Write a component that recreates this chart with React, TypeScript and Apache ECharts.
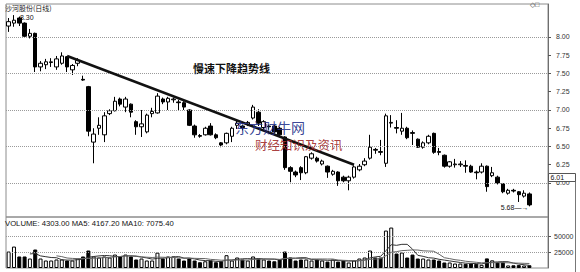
import React, { useEffect, useRef } from "react";
import * as echarts from "echarts";

// 沙河股份 daily bars, oldest first
const opens = [
  8.15, 8.19, 8.26, 8.19, 8.01, 8.05, 7.59, 7.62, 7.65, 7.59,
  7.64, 7.73, 7.55, 7.64, 7.42, 7.32, 6.56, 6.75, 6.66, 6.95,
  6.99, 7.15, 7.04, 7.08, 6.84, 6.77, 6.7, 6.95, 6.96, 7.15,
  7.11, 7.14, 7.11, 7.1, 7.0, 6.78, 6.65, 6.66, 6.78, 6.66,
  6.55, 6.55, 6.64, 6.79, 6.78, 6.8, 6.89, 6.97, 6.76, 6.78,
  6.78, 6.75, 6.63, 6.21, 6.15, 6.21, 6.14, 6.34, 6.34, 6.26,
  6.23, 6.12, 6.15, 6.08, 6.03, 6.08, 6.18, 6.25, 6.34, 6.46,
  6.43, 6.27, 6.82, 6.76, 6.71, 6.75, 6.69, 6.6, 6.49, 6.55,
  6.68, 6.43, 6.38, 6.23, 6.25, 6.25, 6.24, 6.23, 6.15, 6.15,
  6.23, 6.1, 6.08, 5.99, 5.86, 5.9, 5.88, 5.82, 5.85,
];
const closes = [
  8.21, 8.23, 8.19, 8.01, 8.05, 7.59, 7.64, 7.66, 7.66, 7.7,
  7.74, 7.59, 7.61, 7.68, 7.41, 6.71, 6.67, 6.79, 6.92, 6.99,
  7.12, 7.08, 7.15, 6.97, 6.77, 6.81, 6.93, 6.98, 7.19, 7.11,
  7.16, 7.15, 7.1, 7.04, 6.79, 6.66, 6.64, 6.75, 6.66, 6.62,
  6.52, 6.68, 6.75, 6.82, 6.76, 6.83, 7.04, 6.82, 6.84, 6.77,
  6.7, 6.66, 6.21, 6.16, 6.11, 6.14, 6.36, 6.4, 6.3, 6.3,
  6.15, 6.16, 6.03, 6.03, 6.08, 6.22, 6.23, 6.3, 6.49, 6.45,
  6.42, 6.92, 6.83, 6.75, 6.75, 6.62, 6.68, 6.49, 6.55, 6.64,
  6.42, 6.42, 6.23, 6.29, 6.26, 6.26, 6.23, 6.15, 6.14, 6.23,
  5.95, 6.14, 6.0, 5.88, 5.9, 5.89, 5.84, 5.86, 5.7,
];
const lows = [
  8.07, 8.14, 8.15, 8.0, 7.98, 7.52, 7.53, 7.56, 7.59, 7.55,
  7.62, 7.52, 7.48, 7.6, 7.4, 6.64, 6.27, 6.66, 6.56, 6.93,
  6.98, 7.05, 6.97, 6.9, 6.66, 6.63, 6.68, 6.9, 6.95, 7.08,
  7.0, 7.1, 7.0, 7.0, 6.78, 6.62, 6.62, 6.65, 6.65, 6.6,
  6.49, 6.53, 6.56, 6.74, 6.72, 6.78, 6.87, 6.78, 6.74, 6.73,
  6.68, 6.64, 6.18, 6.01, 6.08, 6.04, 6.12, 6.32, 6.28, 6.24,
  6.07, 6.1, 5.96, 6.01, 5.9, 6.06, 6.16, 6.23, 6.32, 6.4,
  6.38, 6.22, 6.76, 6.68, 6.66, 6.6, 6.52, 6.48, 6.47, 6.53,
  6.4, 6.38, 6.21, 6.21, 6.21, 6.22, 6.14, 6.14, 6.05, 6.13,
  5.88, 6.08, 5.98, 5.86, 5.84, 5.87, 5.74, 5.8, 5.68,
];
const highs = [
  8.26, 8.3, 8.28, 8.2, 8.11, 8.06, 7.67, 7.7, 7.71, 7.74,
  7.79, 7.74, 7.63, 7.71, 7.47, 7.33, 6.75, 6.9, 6.97, 7.01,
  7.18, 7.17, 7.18, 7.09, 6.86, 7.0, 6.95, 7.03, 7.23, 7.17,
  7.18, 7.17, 7.14, 7.12, 7.01, 6.8, 6.67, 6.77, 6.82, 6.68,
  6.56, 6.69, 6.77, 6.86, 6.8, 6.85, 7.07, 7.01, 6.86, 6.8,
  6.8, 6.77, 6.64, 6.23, 6.17, 6.23, 6.37, 6.42, 6.36, 6.32,
  6.24, 6.18, 6.16, 6.1, 6.1, 6.24, 6.26, 6.34, 6.66, 6.48,
  6.59, 6.95, 6.93, 6.86, 6.96, 6.77, 6.72, 6.61, 6.57, 6.66,
  6.69, 6.48, 6.39, 6.3, 6.33, 6.3, 6.31, 6.25, 6.17, 6.27,
  6.24, 6.22, 6.1, 6.0, 5.92, 5.92, 5.89, 5.9, 5.87,
];
const volumes = [
  25700, 33500, 18000, 18000, 14800, 28900, 14800, 11700, 11700, 13300,
  13300, 11700, 11700, 14800, 18000, 27300, 18000, 16400, 18000, 16400,
  21000, 18000, 21000, 18000, 13300, 14800, 11700, 11700, 24000, 14800,
  18000, 18000, 14800, 11700, 14800, 11700, 9000, 10500, 11700, 9000,
  10500, 20000, 11700, 16400, 13300, 11700, 18000, 14800, 13300, 11700,
  10500, 13300, 25700, 16400, 11700, 13300, 13300, 11700, 13300, 11700,
  10000, 13300, 10000, 11700, 8600, 11700, 14800, 16400, 27300, 16400,
  16400, 58500, 63200, 22600, 24200, 16400, 21000, 14800, 14800, 13300,
  13300, 11700, 8600, 8600, 7000, 7000, 6500, 7000, 6500, 5000,
  15000, 12000, 9000, 8918, 4000, 4200, 4500, 3833, 4303,
];

const days = opens.map((_, i) => `D${i + 1}`);
const priceTicks = [6.0, 6.25, 6.5, 6.75, 7.0, 7.25, 7.5, 7.75, 8.0];
const priceGridLines = [6.0, 6.5, 7.0, 7.5, 8.0];
const volumeTicks = [25000, 50000];
const trendLine = [
  { day: 11, price: 7.74 },
  { day: 65, price: 6.25 },
];
const lastPrice = 6.01;
const trendText = "慢速下降趋势线";
const stockTitle = "沙河股份(日线)";
const watermarkTop = "东方财牛网";
const watermarkBottom = "财经知识及资讯";

const movingAverage = (values: number[], n: number) =>
  values.map((_, i) => {
    if (i < n - 1) return "-";
    let s = 0;
    for (let k = i - n + 1; k <= i; k++) s += values[k];
    return +(s / n).toFixed(2);
  });

const NUM_FONT = "'Liberation Sans', Arial, sans-serif";
const CJK_FONT = "'Noto Sans CJK SC', sans-serif";

// plot frame: both panes share the same left edge and width
const PLOT_LEFT = 6;
const PLOT_WIDTH = 542;

export default function App() {
  const ref = useRef<HTMLDivElement>(null);

  useEffect(() => {
    if (!ref.current) return;
    const chart = echarts.init(ref.current, undefined, { renderer: "svg" });

    const ma5 = movingAverage(volumes, 5);
    const ma10 = movingAverage(volumes, 10);
    const last = volumes.length - 1;
    const volumeText = `VOLUME: ${volumes[last].toFixed(2)} MA5: ${(ma5[last] as number).toFixed(2)} MA10: ${(ma10[last] as number).toFixed(2)}`;

    let hiIdx = 0;
    let loIdx = 0;
    highs.forEach((h, i) => { if (h > highs[hiIdx]) hiIdx = i; });
    lows.forEach((l, i) => { if (l < lows[loIdx]) loIdx = i; });

    const isUp = (i: number) => closes[i] >= opens[i];

    const dotted = { type: "dotted" as const, color: "#9a9a9a", width: 1 };
    const hiddenX = {
      type: "category" as const,
      data: days,
      max: days.length + 2,
      boundaryGap: true,
      axisLine: { show: false },
      axisTick: { show: false },
      axisLabel: { show: false },
      splitLine: { show: false },
    };

    const decorations: any[] = [
      {
        type: "text",
        left: 5,
        top: 4,
        style: { text: stockTitle, font: `7px ${CJK_FONT}`, fill: "#222" },
      },
      {
        type: "text",
        left: 530,
        top: 1,
        style: { text: "◇□", font: `7px ${NUM_FONT}`, fill: "#444" },
      },
      {
        type: "text",
        left: 193,
        top: 62,
        style: { text: trendText, font: `bold 11px ${CJK_FONT}`, fill: "#111" },
      },
      {
        type: "text",
        left: 235,
        top: 120,
        z: 50,
        style: { text: watermarkTop, font: `14px ${CJK_FONT}`, fill: "rgba(36,48,138,0.9)" },
      },
      {
        type: "text",
        left: 255,
        top: 138,
        z: 50,
        style: { text: watermarkBottom, font: `12.5px ${CJK_FONT}`, fill: "rgba(160,40,40,0.9)" },
      },
      {
        type: "text",
        left: 5,
        top: 219,
        style: { text: volumeText, font: `7.7px ${NUM_FONT}`, fill: "#111" },
      },
      {
        type: "line",
        shape: { x1: 575.5, y1: 176, x2: 575.5, y2: 272 },
        style: { stroke: "#777", lineWidth: 1 },
      },
    ];

    const option: any = {
      animation: false,
      backgroundColor: "#ffffff",
      textStyle: { fontFamily: NUM_FONT },
      grid: [
        { left: PLOT_LEFT, top: 4, width: PLOT_WIDTH, height: 213, show: true, borderColor: "#8c8c8c", borderWidth: 1 },
        { left: PLOT_LEFT, top: 217, width: PLOT_WIDTH, height: 51, show: true, borderColor: "#8c8c8c", borderWidth: 1 },
      ],
      xAxis: [
        { ...hiddenX, gridIndex: 0 },
        { ...hiddenX, gridIndex: 1 },
      ],
      yAxis: [
        {
          type: "value",
          gridIndex: 0,
          position: "right",
          min: 5.534,
          max: 8.452,
          axisLine: { show: true, lineStyle: { color: "#6e6e6e" } },
          axisTick: { show: true, customValues: priceTicks, length: 3, lineStyle: { color: "#555" } },
          axisLabel: {
            customValues: priceTicks,
            formatter: (v: number) => v.toFixed(2),
            fontSize: 7,
            color: "#333",
            margin: 8,
            fontFamily: NUM_FONT,
          },
          splitLine: { show: false },
        },
        {
          type: "value",
          gridIndex: 1,
          position: "right",
          min: 0,
          max: 79700,
          axisLine: { show: true, lineStyle: { color: "#6e6e6e" } },
          axisTick: { show: true, customValues: volumeTicks, length: 3, lineStyle: { color: "#555" } },
          axisLabel: {
            customValues: volumeTicks,
            formatter: (v: number) => String(v),
            fontSize: 7,
            color: "#333",
            margin: 6,
            fontFamily: NUM_FONT,
          },
          splitLine: { show: false },
        },
      ],
      series: [
        {
          type: "candlestick",
          xAxisIndex: 0,
          yAxisIndex: 0,
          barWidth: 4,
          data: days.map((_, i) => [opens[i], closes[i], lows[i], highs[i]]),
          itemStyle: {
            color: "#ffffff",
            color0: "#000000",
            borderColor: "#000000",
            borderColor0: "#000000",
            borderColorDoji: "#000000",
            borderWidth: 1,
          },
          markLine: {
            silent: true,
            symbol: ["none", "none"],
            label: { show: false },
            data: [
              ...priceGridLines.map((v) => ({ yAxis: v, lineStyle: dotted, label: { show: false } })),
              [
                { coord: [trendLine[0].day, trendLine[0].price], lineStyle: { color: "#111", width: 2.6, type: "solid" } },
                { coord: [trendLine[1].day, trendLine[1].price] },
              ],
            ],
          },
          markPoint: {
            silent: true,
            symbol: "circle",
            symbolSize: 0,
            itemStyle: { color: "rgba(0,0,0,0)" },
            data: [
              {
                coord: [hiIdx, highs[hiIdx]],
                label: {
                  show: true,
                  position: "right",
                  distance: 6,
                  offset: [0, 2],
                  formatter: highs[hiIdx].toFixed(2),
                  fontSize: 7,
                  color: "#111",
                  fontFamily: NUM_FONT,
                },
              },
              {
                coord: [loIdx, lows[loIdx]],
                label: {
                  show: true,
                  position: "left",
                  distance: 1,
                  offset: [0, 1],
                  formatter: `${lows[loIdx].toFixed(2)}—→`,
                  fontSize: 7,
                  color: "#111",
                  fontFamily: NUM_FONT,
                },
              },
            ],
          },
        },
        {
          type: "bar",
          xAxisIndex: 1,
          yAxisIndex: 1,
          barWidth: 4,
          data: volumes.map((v, i) => ({
            value: v,
            itemStyle: isUp(i)
              ? { color: "#ffffff", borderColor: "#000", borderWidth: 1 }
              : { color: "#000000", borderColor: "#000", borderWidth: 1 },
          })),
          markLine: {
            silent: true,
            symbol: ["none", "none"],
            label: { show: false },
            data: volumeTicks.map((v) => ({ yAxis: v, lineStyle: dotted })),
          },
        },
        {
          type: "line",
          name: "MA5",
          xAxisIndex: 1,
          yAxisIndex: 1,
          data: ma5,
          symbol: "none",
          lineStyle: { color: "#333", width: 1 },
          z: 5,
        },
        {
          type: "line",
          name: "MA10",
          xAxisIndex: 1,
          yAxisIndex: 1,
          data: ma10,
          symbol: "none",
          lineStyle: { color: "#666", width: 1 },
          z: 5,
        },
      ],
      graphic: decorations,
    };

    chart.setOption(option);

    // latest-price tag on the right axis, placed through the price scale
    const tagY = Math.round(chart.convertToPixel({ yAxisIndex: 0 }, lastPrice) as number);
    const edge = PLOT_LEFT + PLOT_WIDTH + 0.5;
    chart.setOption({
      graphic: [
        ...decorations,
        {
          type: "rect",
          z: 100,
          shape: { x: edge, y: tagY - 8.5, width: 27, height: 8 },
          style: { fill: "#ffffff", stroke: "#555", lineWidth: 1 },
        },
        {
          type: "text",
          z: 101,
          x: edge + 2,
          y: tagY - 4.5,
          style: {
            text: lastPrice.toFixed(2),
            font: `7px ${NUM_FONT}`,
            fill: "#111",
            verticalAlign: "middle",
            textVerticalAlign: "middle",
          },
        },
      ],
    });

    return () => chart.dispose();
  }, []);

  return (
    <div
      ref={ref}
      style={{ position: "fixed", left: 0, top: 0, width: 580, height: 272, background: "#fff" }}
    />
  );
}
